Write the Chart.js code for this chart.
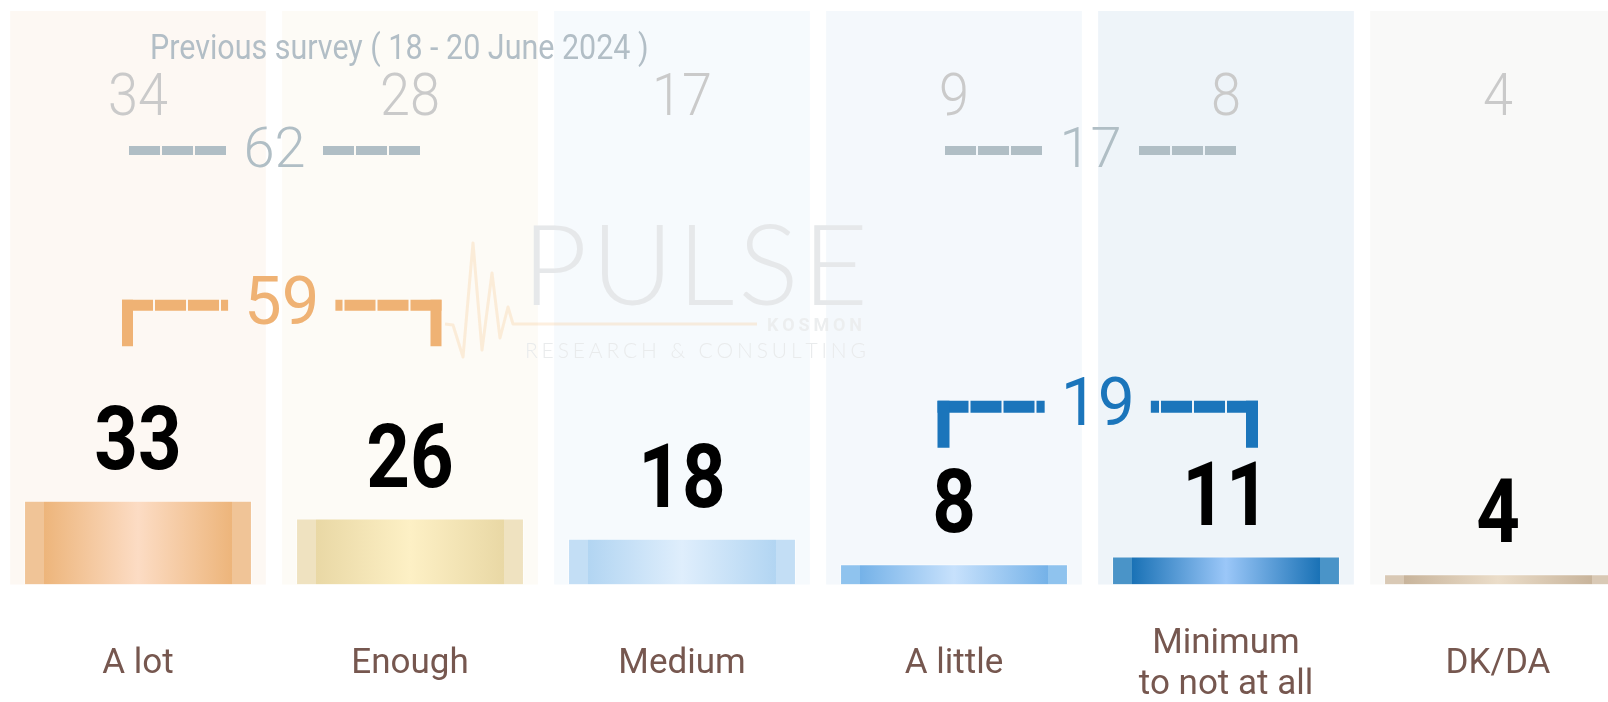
<!DOCTYPE html>
<html>
<head>
<meta charset="utf-8">
<title>Survey chart</title>
<script src="https://cdn.jsdelivr.net/npm/chart.js@4.4.1/dist/chart.umd.min.js"></script>
<style>
  html, body { margin: 0; padding: 0; background: #fff; overflow: hidden; }
  #wrap { width: 1634px; height: 702px; }
</style>
</head>
<body>
<div id="wrap"><canvas id="chart" width="1634" height="702"></canvas></div>
<script>
// --- data ---
const categories = ['A lot', 'Enough', 'Medium', 'A little', ['Minimum', 'to not at all'], 'DK/DA'];
const currentValues = [33, 26, 18, 8, 11, 4];
const previousValues = [34, 28, 17, 9, 8, 4];
const previousLabel = 'Previous survey ( 18 - 20 June 2024 )';
const positiveGroup = [0, 1];
const negativeGroup = [3, 4];

// --- styles ---
const FONT = 'Roboto, "Noto Sans", sans-serif';
const BAR_PCT = 0.838;
const PANEL_PCT = 0.94;
const panelColors = ['#fdf8f3', '#fdfbf6', '#f6fafd', '#f4f8fc', '#eef4f9', '#f9f9f8'];
const barColors = [
    { edge: '#f0c497', dark: '#edb57b', light: '#fcdcc4' },
    { edge: '#efe2c0', dark: '#e9d8a5', light: '#fdf0c5' },
    { edge: '#c3def5', dark: '#b2d5f2', light: '#dfeefc' },
    { edge: '#8fc3ee', dark: '#75b2e8', light: '#c7e1fc' },
    { edge: '#4a94c8', dark: '#1a72b6', light: '#9bc7f8' },
    { edge: '#d9c9b5', dark: '#c8b49b', light: '#ebddc9' }
];
// annotation levels, in y-axis units
const titleLevel = 207;
const prevLevel = 185;
const prevBracketLevel = 171;
const posBracketLevel = 110;
const negBracketLevel = 70;

function pitchOf(chart) {
    return chart.scales.x.width / categories.length;
}

// cylinder-like horizontal gradient for each bar
function barFill(context) {
    const chart = context.chart;
    const i = context.dataIndex;
    const c = barColors[i] || barColors[0];
    const xs = chart.scales.x;
    if (!chart.chartArea || !xs || i === undefined) return c.dark;
    const w = pitchOf(chart) * BAR_PCT;
    const x0 = xs.getPixelForValue(i) - w / 2;
    const g = chart.ctx.createLinearGradient(x0, 0, x0 + w, 0);
    g.addColorStop(0, c.edge);
    g.addColorStop(0.088, c.edge);
    g.addColorStop(0.089, c.dark);
    g.addColorStop(0.5, c.light);
    g.addColorStop(0.911, c.dark);
    g.addColorStop(0.912, c.edge);
    g.addColorStop(1, c.edge);
    return g;
}

function drawText(ctx, text, x, y, font, color, sx, align, baseline) {
    ctx.save();
    ctx.font = font;
    ctx.fillStyle = color;
    ctx.textAlign = align || 'center';
    ctx.textBaseline = baseline || 'alphabetic';
    ctx.translate(x, y);
    ctx.scale(sx, 1);
    ctx.fillText(text, 0, 0);
    ctx.restore();
}

// spread letters evenly between x0 and x1
function spreadText(ctx, text, x0, x1, y) {
    const chars = [...text];
    const widths = chars.map(ch => ctx.measureText(ch).width);
    const total = widths.reduce((a, b) => a + b, 0);
    const gap = chars.length > 1 ? (x1 - x0 - total) / (chars.length - 1) : 0;
    let x = x0;
    ctx.textAlign = 'left';
    chars.forEach((ch, k) => {
        ctx.fillText(ch, x, y);
        x += widths[k] + gap;
    });
}

function drawBracket(ctx, chart, group, values, opt) {
    const xs = chart.scales.x, ys = chart.scales.y;
    const xa = xs.getPixelForValue(group[0]) + opt.leftOff;
    const xb = xs.getPixelForValue(group[group.length - 1]) + opt.rightOff;
    const y = ys.getPixelForValue(opt.level);
    const label = String(group.reduce((s, i) => s + values[i], 0));
    ctx.save();
    ctx.font = opt.font;
    const tw = ctx.measureText(label).width;
    const xc = (xa + xb) / 2;
    const half = opt.legs ? opt.thick / 2 : 0;
    ctx.strokeStyle = opt.color;
    ctx.lineWidth = opt.thick;
    ctx.lineCap = 'butt';
    ctx.setLineDash([31, 2]);
    ctx.beginPath();
    ctx.moveTo(xa - half, y);
    ctx.lineTo(xc - tw / 2 - 16, y);
    ctx.moveTo(xb + half, y);
    ctx.lineTo(xc + tw / 2 + 16, y);
    ctx.stroke();
    if (opt.legs) {
        ctx.setLineDash([]);
        ctx.beginPath();
        ctx.moveTo(xa, y - half);
        ctx.lineTo(xa, y + opt.legs);
        ctx.moveTo(xb, y - half);
        ctx.lineTo(xb, y + opt.legs);
        ctx.stroke();
    }
    ctx.restore();
    drawText(ctx, label, xc, y + 2, opt.font, opt.color, 1, 'center', 'middle');
}

const backdropPlugin = {
    id: 'backdrop',
    beforeDatasetsDraw(chart) {
        const ctx = chart.ctx;
        const area = chart.chartArea;
        const xs = chart.scales.x;
        const pw = pitchOf(chart) * PANEL_PCT;
        ctx.save();
        categories.forEach((c, i) => {
            ctx.fillStyle = panelColors[i];
            ctx.fillRect(xs.getPixelForValue(i) - pw / 2, area.top, pw, area.bottom - area.top);
        });

        // watermark logo
        ctx.strokeStyle = 'rgba(248, 196, 140, 0.28)';
        ctx.lineWidth = 3;
        ctx.lineJoin = 'round';
        ctx.beginPath();
        const beat = [[445, 324], [453, 325], [463, 357], [473, 243], [482, 350], [492, 273], [500, 338], [508, 307], [513, 324], [757, 324]];
        beat.forEach((p, k) => k ? ctx.lineTo(p[0], p[1]) : ctx.moveTo(p[0], p[1]));
        ctx.stroke();
        ctx.fillStyle = '#e6e8ea';
        ctx.font = '300 113px Lato, ' + FONT;
        spreadText(ctx, 'PULSE', 522, 868, 305);
        ctx.fillStyle = '#e9ebec';
        ctx.font = '300 21px Lato, ' + FONT;
        spreadText(ctx, 'RESEARCH & CONSULTING', 525, 866, 358);
        ctx.fillStyle = '#eceeef';
        ctx.font = 'bold 18px ' + FONT;
        spreadText(ctx, 'KOSMON', 767, 862, 331);
        ctx.restore();
    },
    afterDatasetsDraw(chart) {
        const ctx = chart.ctx;
        const xs = chart.scales.x, ys = chart.scales.y;
        const meta = chart.getDatasetMeta(0);

        // current values above bars
        meta.data.forEach((bar, i) => {
            drawText(ctx, String(currentValues[i]), bar.x, bar.y - 32, 'bold 89px ' + FONT, '#000000', 0.855, 'center');
        });

        // previous survey
        drawText(ctx, previousLabel, xs.getPixelForValue(0) + 12, ys.getPixelForValue(titleLevel),
            '400 35px ' + FONT, '#b2bec6', 0.87, 'left');
        previousValues.forEach((v, i) => {
            drawText(ctx, String(v), xs.getPixelForValue(i), ys.getPixelForValue(prevLevel),
                '300 60px ' + FONT, '#cacaca', 0.9, 'center');
        });
        const grey = { level: prevBracketLevel, leftOff: -9, rightOff: 10, thick: 9, legs: 0,
            color: '#b0bec5', font: '300 56px ' + FONT };
        drawBracket(ctx, chart, positiveGroup, previousValues, grey);
        drawBracket(ctx, chart, negativeGroup, previousValues, grey);

        // current groups
        drawBracket(ctx, chart, positiveGroup, currentValues, { level: posBracketLevel, leftOff: -10.5, rightOff: 26,
            thick: 11, legs: 41, color: '#efb274', font: '400 67px ' + FONT });
        drawBracket(ctx, chart, negativeGroup, currentValues, { level: negBracketLevel, leftOff: -10.5, rightOff: 26,
            thick: 12, legs: 41, color: '#1b75bb', font: '400 66px ' + FONT });
    }
};

new Chart(document.getElementById('chart'), {
    type: 'bar',
    data: {
        labels: categories,
        datasets: [{
            data: currentValues,
            backgroundColor: barFill,
            borderColor: 'rgba(255, 255, 255, 0.45)',
            borderWidth: 1,
            categoryPercentage: 1,
            barPercentage: BAR_PCT
        }]
    },
    options: {
        responsive: false,
        animation: false,
        devicePixelRatio: 1,
        // the axis reserves twice the tick padding, so the bottom padding is pulled back
        layout: { padding: { top: 11, left: 2, right: 0, bottom: -83 } },
        plugins: {
            legend: { display: false },
            tooltip: { enabled: false }
        },
        scales: {
            x: {
                grid: { display: false, drawTicks: false },
                border: { display: false },
                ticks: {
                    color: '#76574f',
                    font: { family: FONT, size: 35, lineHeight: 1.15 },
                    padding: 60,
                    crossAlign: 'center',
                    maxRotation: 0,
                    autoSkip: false
                }
            },
            y: { display: false, min: 0, max: 226 }
        }
    },
    plugins: [backdropPlugin]
});
</script>
</body>
</html>
